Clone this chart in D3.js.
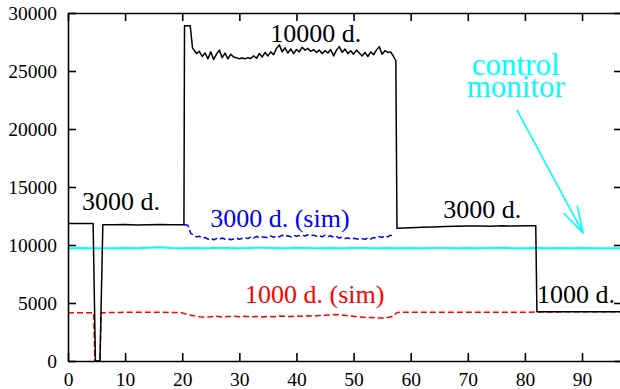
<!DOCTYPE html>
<html>
<head>
<meta charset="utf-8">
<script src="https://cdn.jsdelivr.net/npm/d3@7"></script>
<style>
  body { margin: 0; background: #fff; }
  svg text { font-family: "Liberation Serif", Tinos, "Times New Roman", Times, "DejaVu Serif", serif; }
</style>
</head>
<body>
<div id="chart"></div>
<script>
const width = 620, height = 389;
const margin = {top: 13, right: -2, bottom: 28, left: 68};

const xTicks = [0, 10, 20, 30, 40, 50, 60, 70, 80, 90];
const yTicks = [0, 5000, 10000, 15000, 20000, 25000, 30000];

// measured counts (black)
const measured = [
  [0, 11850], [2, 11860], [4.4, 11850], [4.8, 0], [5.6, 0], [6.1, 11750],
  [8, 11740], [10, 11760], [12, 11730], [14, 11750], [16, 11770], [18, 11740], [20.3, 11750],
  [20.4, 28900], [21.4, 28900], [21.8, 27000],
  [22, 26850], [22.5, 26500], [23, 26700], [23.5, 26250], [24, 26550], [24.5, 26050],
  [25, 26650], [25.5, 26000], [26, 26450], [26.5, 26800], [27, 26150], [27.5, 26550],
  [28, 26050], [28.5, 26450], [29, 26200], [29.5, 26150], [30, 26050], [30.5, 26120],
  [31, 26050], [31.5, 26150], [32, 26080], [32.5, 26300], [33, 26100], [33.5, 26500],
  [34, 26200], [34.5, 26600], [35, 26300], [35.5, 26650], [36, 26400], [36.5, 26950],
  [37, 27250], [37.5, 26650], [38, 27000], [38.5, 26550], [39, 26900], [39.5, 26500],
  [40, 26850], [40.5, 26650], [41, 27050], [41.5, 26800], [42, 26950], [42.5, 26700],
  [43, 26850], [43.5, 26600], [44, 26800], [44.5, 26500], [45, 26750], [45.5, 26550],
  [46, 26850], [46.5, 26300], [47, 26800], [47.5, 27100], [48, 26600], [48.5, 26900],
  [49, 26500], [49.5, 26750], [50, 26450], [50.5, 26800], [51, 26550], [51.5, 26300],
  [52, 26600], [52.5, 26250], [53, 26650], [53.5, 26400], [54, 26800], [54.5, 27100],
  [55, 26450], [55.5, 26750], [56, 26600], [56.5, 26650], [57, 26250], [57.4, 25900],
  [57.6, 11450], [60, 11480], [62, 11520], [64, 11560], [66, 11600], [68, 11620],
  [70, 11630], [72, 11640], [74, 11620], [76, 11650], [78, 11640], [80, 11650], [81.9, 11650],
  [82.1, 4250], [86, 4240], [90, 4250], [94, 4240], [97, 4250]
];

// simulated 3000 d. (blue)
const sim3000 = [
  [20.3, 11750], [21, 11700], [21.5, 11000], [22, 10850], [22.5, 10700], [23, 10750],
  [23.5, 10600], [24, 10650], [24.5, 10500], [25, 10600], [25.5, 10450], [26, 10550],
  [26.5, 10480], [27, 10600], [27.5, 10500], [28, 10550], [28.5, 10450], [29, 10520],
  [29.5, 10600], [30, 10500], [31, 10650], [31.5, 10550], [32, 10700], [32.5, 10600],
  [33, 10750], [33.5, 10620], [34, 10700], [35, 10650], [35.5, 10780], [36, 10650],
  [36.5, 10800], [37, 10700], [37.5, 10850], [38, 10720], [38.5, 10800], [39, 10700],
  [39.5, 10850], [40, 10750], [41, 10850], [41.5, 10780], [42, 10880], [42.5, 10800],
  [43, 10850], [43.5, 10750], [44, 10800], [44.5, 10700], [45, 10850], [45.5, 10720],
  [46, 10800], [46.5, 10650], [47, 10720], [47.5, 10600], [48, 10680], [48.5, 10550],
  [49, 10620], [49.5, 10500], [50, 10580], [51, 10480], [51.5, 10550], [52, 10500],
  [52.5, 10600], [53, 10520], [53.5, 10650], [54, 10580], [54.5, 10720], [55, 10650],
  [55.5, 10800], [56, 10700], [56.5, 10850], [57, 10750]
];

// simulated 1000 d. (red)
const sim1000 = [
  [0, 4160], [4.5, 4160], [4.7, 0], [5.6, 0], [5.8, 4160], [10, 4200], [15, 4200],
  [19, 4180], [20, 4150], [21, 4000], [22, 3900], [23, 3820], [24, 3760], [25, 3820],
  [26, 3850], [27, 3800], [28, 3830], [29, 3860], [30, 3820], [31, 3850], [32, 3800],
  [33, 3840], [34, 3800], [35, 3850], [36, 3820], [37, 3870], [38, 3850], [39, 3830],
  [40, 3880], [41, 3850], [42, 3900], [43, 3880], [44, 3920], [45, 3950], [46, 3980],
  [47, 4000], [48, 3970], [49, 3900], [50, 3850], [51, 3800], [52, 3780], [53, 3750],
  [54, 3720], [55, 3700], [56, 3750], [57, 3850], [57.5, 4150], [58, 4200], [65, 4200],
  [70, 4210], [75, 4200], [81, 4200], [82, 4230], [97, 4250]
];

// control monitor (cyan)
const control = [
  [0, 9720], [2, 9740], [4, 9710], [6, 9730], [8, 9720], [10, 9750], [12, 9730],
  [14, 9760], [16, 9800], [18, 9740], [20, 9720], [22, 9750], [24, 9730], [26, 9760],
  [28, 9740], [30, 9720], [32, 9750], [34, 9770], [36, 9740], [38, 9730], [40, 9760],
  [42, 9740], [44, 9720], [46, 9750], [48, 9730], [50, 9760], [52, 9740], [54, 9730],
  [56, 9750], [58, 9720], [60, 9740], [62, 9730], [64, 9750], [66, 9740], [68, 9720],
  [70, 9750], [72, 9730], [74, 9740], [76, 9760], [78, 9730], [80, 9720], [82, 9740],
  [84, 9730], [86, 9750], [88, 9720], [90, 9740], [92, 9730], [94, 9720], [97, 9730]
];

const labels = [
  {text: "3000 d.", x: 2.45, y: 13000, color: "#000", size: 26, anchor: "start"},
  {text: "10000 d.", x: 35.4, y: 27500, color: "#000", size: 26, anchor: "start"},
  {text: "3000 d.", x: 65.7, y: 12330, color: "#000", size: 26, anchor: "start"},
  {text: "1000 d.", x: 82.1, y: 5000, color: "#000", size: 26, anchor: "start"},
  {text: "3000 d. (sim)", x: 24.9, y: 11580, color: "#0000ff", size: 26, anchor: "start"},
  {text: "1000 d. (sim)", x: 31, y: 5000, color: "#ff0000", size: 26, anchor: "start"},
  {text: "control", x: 78.4, y: 24650, color: "#00ffff", size: 31, anchor: "middle"},
  {text: "monitor", x: 78.4, y: 22780, color: "#00ffff", size: 31, anchor: "middle"}
];
const arrow = {from: [78.6, 21640], to: [90.2, 11030]};

const svg = d3.select("#chart").append("svg")
  .attr("width", width).attr("height", height)
  .style("overflow", "hidden");

const x = d3.scaleLinear().domain([0, 97]).range([margin.left, width - margin.right]);
const y = d3.scaleLinear().domain([0, 30000]).range([height - margin.bottom, margin.top]);

const line = d3.line().x(d => x(d[0])).y(d => y(d[1]));

const series = [
  {data: control, color: "#00ffff", width: 2, dash: null},
  {data: sim1000, color: "#ff0000", width: 1.5, dash: "6,3"},
  {data: sim3000, color: "#0000ff", width: 1.5, dash: "6,3"},
  {data: measured, color: "#000", width: 1.5, dash: null}
];

svg.append("g").selectAll("path")
  .data(series)
  .enter().append("path")
    .attr("d", d => line(d.data))
    .attr("fill", "none")
    .attr("stroke", d => d.color)
    .attr("stroke-width", d => d.width)
    .attr("stroke-dasharray", d => d.dash)
    .attr("stroke-linejoin", "round");

// axes, ticks pointing inward
const fmt = d3.format("d");
const axes = [
  svg.append("g").attr("transform", `translate(0, ${y(0)})`)
    .call(d3.axisBottom(x).tickValues(xTicks).tickSizeInner(-8).tickSizeOuter(0).tickPadding(11).tickFormat(fmt)),
  svg.append("g").attr("transform", `translate(0, ${y(30000)})`)
    .call(d3.axisTop(x).tickValues(xTicks).tickSizeInner(-8).tickSizeOuter(0).tickFormat("")),
  svg.append("g").attr("transform", `translate(${x(0)}, 0)`)
    .call(d3.axisLeft(y).tickValues(yTicks).tickSizeInner(-8).tickSizeOuter(0).tickPadding(11).tickFormat(fmt)),
  svg.append("g").attr("transform", `translate(${x(97)}, 0)`)
    .call(d3.axisRight(y).tickValues(yTicks).tickSizeInner(-8).tickSizeOuter(0).tickFormat(""))
];
axes.forEach(g => {
  g.attr("font-family", null);
  g.selectAll("path, line").attr("stroke", "#000").attr("stroke-width", 1.6);
  g.selectAll("text").attr("fill", "#000").style("font-size", "19.5px");
});

svg.append("g").selectAll("text")
  .data(labels)
  .enter().append("text")
    .attr("x", d => x(d.x))
    .attr("y", d => y(d.y))
    .attr("fill", d => d.color)
    .attr("text-anchor", d => d.anchor)
    .style("font-size", d => d.size + "px")
    .text(d => d.text);

// arrow to the control monitor line
const p0 = [x(arrow.from[0]), y(arrow.from[1])],
      p1 = [x(arrow.to[0]), y(arrow.to[1])];
const ang = Math.atan2(p0[1] - p1[1], p0[0] - p1[0]);
const headLen = 28, headAng = 16 * Math.PI / 180;
const arrowG = svg.append("g").attr("stroke", "#00ffff").attr("stroke-width", 1.6).attr("fill", "none");
arrowG.append("line").attr("x1", p0[0]).attr("y1", p0[1]).attr("x2", p1[0]).attr("y2", p1[1]);
[-1, 1].forEach(s => {
  arrowG.append("line")
    .attr("x1", p1[0]).attr("y1", p1[1])
    .attr("x2", p1[0] + headLen * Math.cos(ang + s * headAng))
    .attr("y2", p1[1] + headLen * Math.sin(ang + s * headAng));
});
</script>
</body>
</html>
